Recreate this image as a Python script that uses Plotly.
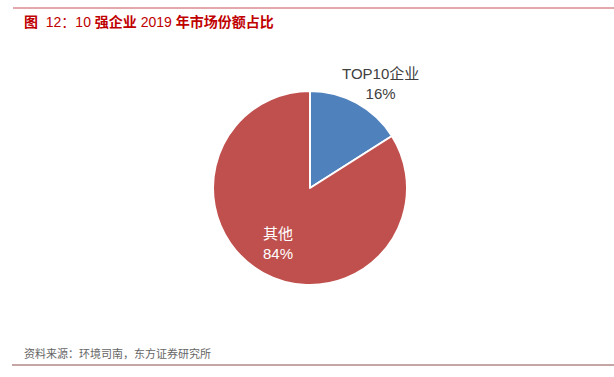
import plotly.graph_objects as go

labels = ["TOP10企业", "其他"]
values = [16, 84]
colors = ["#4F81BD", "#C0504D"]
text_colors = ["#404040", "#FFFFFF"]
label_pos = [(380, 83), (278, 243)]  # label centres in pixels
title = "<b>图</b>  12：10 <b>强企业</b> 2019 <b>年市场份额占比</b>"
source = "资料来源：环境司南，东方证券研究所"

W, H = 614, 377
FONT = "Liberation Sans, Noto Sans CJK SC, sans-serif"
fig = go.Figure()
fig.add_trace(go.Pie(
    labels=labels, values=values, sort=False, direction="clockwise", rotation=0,
    marker=dict(colors=colors, line=dict(color="white", width=2)),
    textinfo="none",
    showlegend=False, hoverinfo="label+percent",
    domain=dict(x=[213 / W, 407 / W], y=[1 - 285 / H, 1 - 91 / H]),
))
total = sum(values)
anns = []
for lab, v, c, (px, py) in zip(labels, values, text_colors, label_pos):
    anns.append(dict(text=f"{lab}<br>{round(100 * v / total)}%", xref="paper", yref="paper",
                     x=px / W, y=1 - py / H, xanchor="center", yanchor="middle", showarrow=False,
                     align="center", font=dict(size=15, color=c, family=FONT)))
anns += [
    dict(text=title, xref="paper", yref="paper", x=22 / W, y=1 - 22 / H,
         xanchor="left", yanchor="middle", showarrow=False,
         font=dict(size=14, color="#C00000", family=FONT)),
    dict(text=source, xref="paper", yref="paper", x=22 / W, y=1 - 353 / H,
         xanchor="left", yanchor="middle", showarrow=False,
         font=dict(size=11, color="#666666", family=FONT)),
]
fig.update_layout(
    width=W, height=H, margin=dict(l=0, r=0, t=0, b=0),
    paper_bgcolor="white", plot_bgcolor="white",
    shapes=[
        dict(type="line", xref="paper", yref="paper", x0=13 / W, x1=1, y0=1 - 8 / H, y1=1 - 8 / H,
             line=dict(color="#C8505A", width=1)),
        dict(type="line", xref="paper", yref="paper", x0=12 / W, x1=1, y0=1 - 365 / H, y1=1 - 365 / H,
             line=dict(color="#8B4A4A", width=1)),
    ],
    annotations=anns,
)
fig.write_html("out.html", config={"displayModeBar": False},
               post_script="document.body.style.margin='0';")
